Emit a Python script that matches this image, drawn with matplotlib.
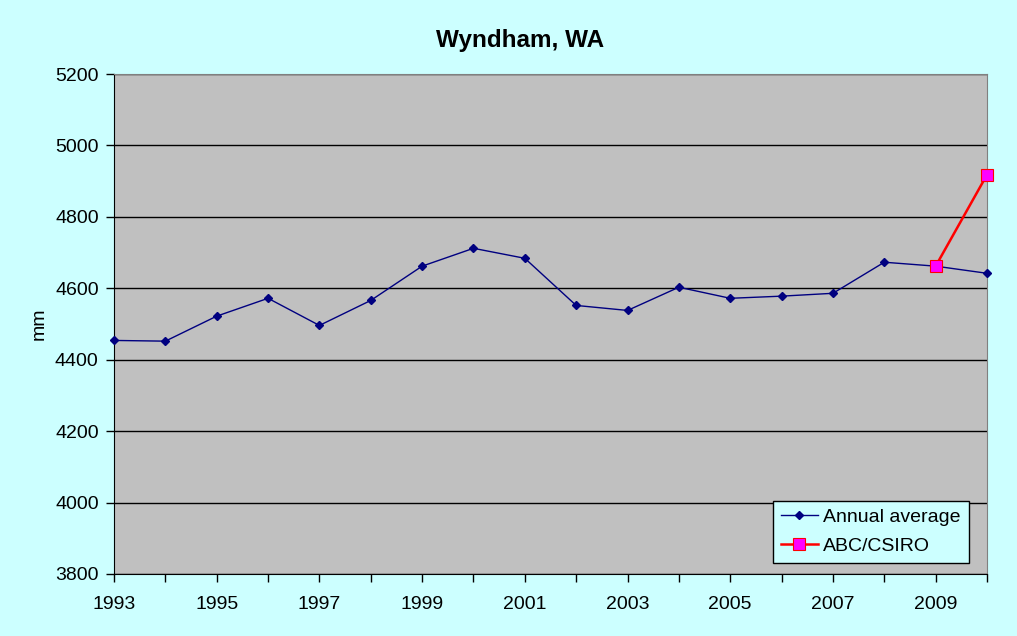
import matplotlib.pyplot as plt

plt.rcParams['font.family'] = ['Liberation Sans', 'DejaVu Sans']

years = list(range(1993, 2011))
annual_avg = [4454, 4452, 4522, 4572, 4496, 4566, 4662, 4712, 4684,
              4552, 4538, 4603, 4572, 4578, 4586, 4673, 4662, 4642]
abc_years = [2009, 2010]
abc_values = [4662, 4918]

fig = plt.figure(figsize=(10.17, 6.36), dpi=100, facecolor='#CCFFFF')
ax = fig.add_axes([0.1121, 0.0975, 0.8584, 0.7861])
ax.set_facecolor('#C0C0C0')

ax.plot(years, annual_avg, color='#000080', lw=1, marker='D', ms=4.5,
        label='Annual average', zorder=3, clip_on=False)
ax.plot(abc_years, abc_values, color='#FF0000', lw=1.8, marker='s', ms=9,
        markerfacecolor='#FF00FF', markeredgecolor='#FF0000', mew=0.8,
        label='ABC/CSIRO', zorder=4, clip_on=False)

ax.set_xlim(1993, 2010)
ax.set_ylim(3800, 5200)
ax.set_xticks(years)
ax.set_xticklabels([str(y) if (y - 1993) % 2 == 0 else '' for y in years])
ax.set_yticks(range(3800, 5201, 200))
ax.yaxis.grid(True, color='black', lw=1)
ax.set_axisbelow(True)
ax.tick_params(direction='out', length=6, width=1, labelsize=14)
ax.tick_params(axis='x', pad=10)
ax.tick_params(axis='y', pad=5)

for s in ['top', 'right']:
    ax.spines[s].set_color('#808080')
for s in ['left', 'bottom']:
    ax.spines[s].set_color('black')

ax.set_ylabel('mm', fontsize=14, labelpad=5)
fig.text(0.5118, 0.937, 'Wyndham, WA', ha='center', va='center',
         fontsize=17.5, fontweight='bold')

leg = ax.legend(loc='lower right', bbox_to_anchor=(0.979, 0.022),
                borderaxespad=0, fontsize=14, fancybox=False, framealpha=1,
                facecolor='#CCFFFF', edgecolor='black',
                borderpad=0.4, handlelength=1.9, labelspacing=0.6,
                handletextpad=0.3)
leg.get_frame().set_linewidth(1)

plt.savefig('out.png', dpi=100, facecolor=fig.get_facecolor())
